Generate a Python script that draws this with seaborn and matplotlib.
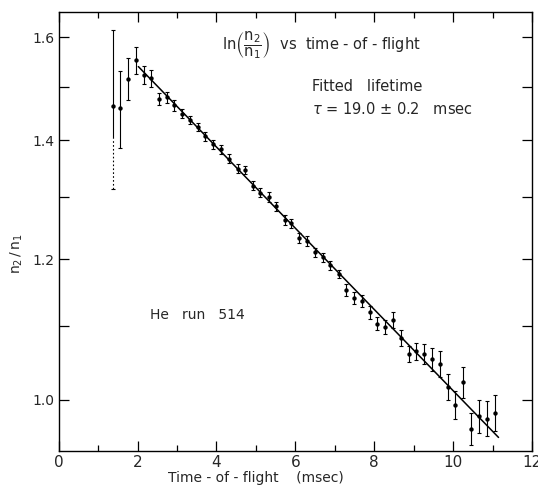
import numpy as np
import pandas as pd
import matplotlib
matplotlib.use("Agg")
import matplotlib.pyplot as plt
import seaborn as sns
from matplotlib.ticker import FixedLocator, NullFormatter

# Data (time in msec, ratio n2/n1, error half-width)
t_msec = [1.37, 1.56, 1.75, 1.96, 2.16, 2.34, 2.55, 2.75, 2.93, 3.13,
          3.32, 3.53, 3.72, 3.91, 4.12, 4.32, 4.54, 4.73, 4.93, 5.10,
          5.32, 5.51, 5.73, 5.90, 6.09, 6.29, 6.51, 6.70, 6.89, 7.10,
          7.29, 7.48, 7.68, 7.88, 8.08, 8.28, 8.48, 8.67, 8.87, 9.06,
          9.27, 9.46, 9.66, 9.86, 10.05, 10.25, 10.46, 10.66, 10.86, 11.05]
ratio = [1.464, 1.459, 1.516, 1.553, 1.523, 1.517, 1.477, 1.480, 1.465, 1.449,
         1.437, 1.424, 1.407, 1.393, 1.384, 1.367, 1.349, 1.347, 1.320, 1.308,
         1.301, 1.285, 1.263, 1.257, 1.233, 1.229, 1.211, 1.203, 1.191, 1.177,
         1.153, 1.141, 1.137, 1.120, 1.104, 1.099, 1.109, 1.084, 1.061, 1.065,
         1.061, 1.054, 1.048, 1.017, 0.993, 1.023, 0.963, 0.979, 0.976, 0.983]
err = [0.150, 0.073, 0.041, 0.027, 0.018, 0.017, 0.012, 0.010, 0.010, 0.009,
       0.008, 0.008, 0.008, 0.008, 0.008, 0.008, 0.008, 0.007, 0.008, 0.008,
       0.008, 0.008, 0.008, 0.008, 0.008, 0.008, 0.007, 0.007, 0.007, 0.006,
       0.009, 0.009, 0.009, 0.010, 0.009, 0.010, 0.012, 0.011, 0.011, 0.012,
       0.014, 0.016, 0.018, 0.017, 0.018, 0.020, 0.020, 0.021, 0.022, 0.023]

# Fitted exponential (tau = 19.0 msec)
tau = 19.0
amp = 1.713
fit_range = [2.02, 11.15]

df = pd.DataFrame({"t": t_msec, "r": ratio, "e": err})
fit_t = np.array(fit_range)
fit_df = pd.DataFrame({"t": fit_t, "r": amp * np.exp(-fit_t / tau)})

sns.set_theme(style="ticks")
plt.rcParams['font.family'] = ['DejaVu Sans']
plt.rcParams['mathtext.fontset'] = 'dejavusans'

fig = plt.figure(figsize=(5.38, 4.91), dpi=100)
ax = fig.add_axes([0.109, 0.0815, 0.880, 0.894])

# first point: upper half solid, lower half dotted as in the print
ax.errorbar(df["t"][1:], df["r"][1:], yerr=df["e"][1:], fmt="none", ecolor="black",
            elinewidth=0.8, capsize=1.6, capthick=0.8)
t0, r0, e0 = df.loc[0, "t"], df.loc[0, "r"], df.loc[0, "e"]
ax.vlines(t0, r0 - 0.06, r0 + e0, color="black", linewidth=0.8)
ax.vlines(t0, r0 - e0, r0 - 0.06, color="black", linewidth=0.8, linestyles=(0, (1.5, 2)))
ax.plot([t0, t0], [r0 - e0, r0 + e0], linestyle="none", marker="_", ms=3.2,
        mew=0.8, color="black")

sns.scatterplot(data=df, x="t", y="r", ax=ax, color="black", s=10,
                edgecolor="black", linewidth=0, zorder=3)
sns.lineplot(data=fit_df, x="t", y="r", ax=ax, color="black", linewidth=1.1)

ax.set_yscale("log")
ax.set_xlim(0, 12)
ax.set_ylim(0.936, 1.653)

ax.xaxis.set_major_locator(FixedLocator([0, 2, 4, 6, 8, 10, 12]))
ax.xaxis.set_minor_locator(FixedLocator([1, 3, 5, 7, 9, 11]))
ax.set_xticklabels(["0", "2", "4", "6", "8", "10", "12"], fontsize=11)
ax.yaxis.set_major_locator(FixedLocator([1.0, 1.2, 1.4, 1.6]))
ax.yaxis.set_minor_locator(FixedLocator([1.1, 1.3, 1.5]))
ax.yaxis.set_minor_formatter(NullFormatter())
ax.set_yticklabels(["1.0", "1.2", "1.4", "1.6"], fontsize=10)

ax.tick_params(axis="both", which="both", direction="in", top=True, right=True,
               color="black", width=0.9)
ax.tick_params(axis="x", which="major", length=7, pad=3)
ax.tick_params(axis="x", which="minor", length=4)
ax.tick_params(axis="y", which="both", length=7, pad=3)
for s in ax.spines.values():
    s.set_color("black")
    s.set_linewidth(1.0)

ax.set_xlabel("Time - of - flight    (msec)", fontsize=10)
ax.xaxis.set_label_coords(0.417, -0.045)
ax.set_ylabel(r"$\mathrm{n_2\,/\,n_1}$", fontsize=10)
ax.yaxis.set_label_coords(-0.072, 0.45)

ax.text(0.555, 0.925,
        r"$\mathrm{ln}\left(\dfrac{\mathrm{n_2}}{\mathrm{n_1}}\right)$  vs  time - of - flight",
        transform=ax.transAxes, ha="center", va="center", fontsize=10.5)
ax.text(0.535, 0.83, "Fitted   lifetime", transform=ax.transAxes,
        ha="left", va="center", fontsize=10.5)
ax.text(0.535, 0.78, r"$\tau$ = 19.0 $\pm$ 0.2   msec", transform=ax.transAxes,
        ha="left", va="center", fontsize=10.5)
ax.text(0.193, 0.31, "He   run   514", transform=ax.transAxes,
        ha="left", va="center", fontsize=10)

fig.savefig("out.png", dpi=100)
